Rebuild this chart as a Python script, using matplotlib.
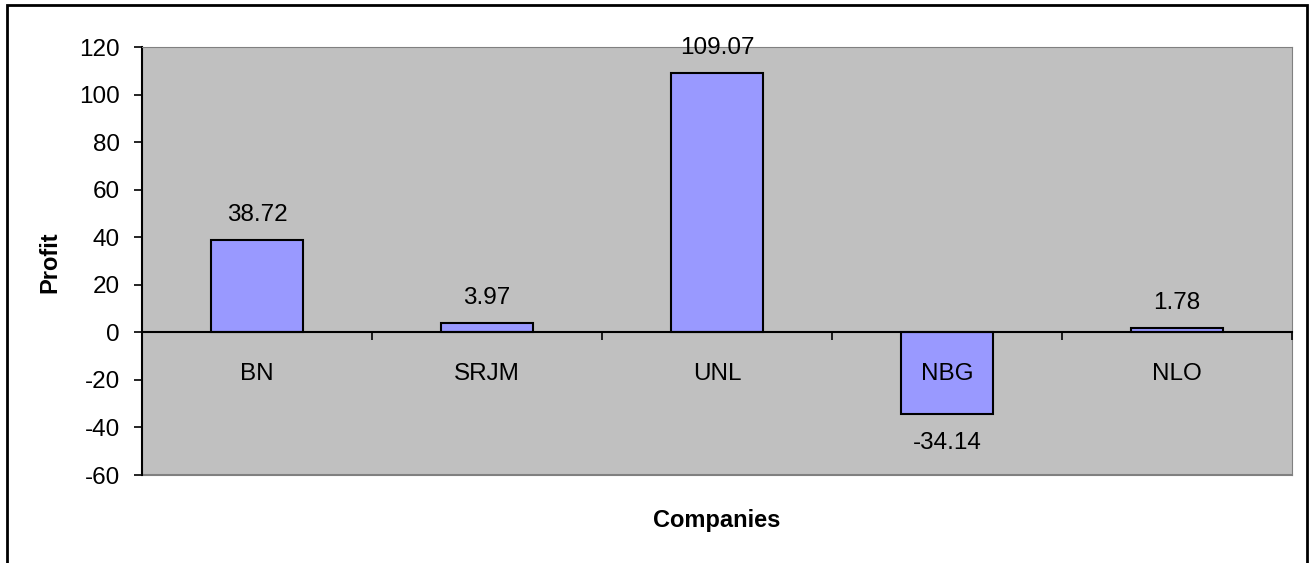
import matplotlib.pyplot as plt
from matplotlib.patches import Rectangle

companies = ['BN', 'SRJM', 'UNL', 'NBG', 'NLO']
profit = [38.72, 3.97, 109.07, -34.14, 1.78]
yticks = [-60, -40, -20, 0, 20, 40, 60, 80, 100, 120]

plt.rcParams['font.family'] = ['Liberation Sans', 'DejaVu Sans']
plt.rcParams['axes.unicode_minus'] = False

W, H = 1314, 563
fig = plt.figure(figsize=(W / 100, H / 100), dpi=100)

# chart area frame
fig.patches.append(Rectangle((7 / W, -0.05), 1300 / W, 1.05 - 5 / H,
                             transform=fig.transFigure, fill=False,
                             edgecolor='black', linewidth=2, clip_on=False))

ax = fig.add_axes([142 / W, (H - 475) / H, 1150 / W, 428 / H])
ax.set_facecolor('#C0C0C0')
ax.set_axisbelow(False)  # category labels go over the negative bar

x = list(range(len(companies)))
bars = ax.bar(x, profit, width=0.4, color='#9999FF', edgecolor='black',
              linewidth=1.5, zorder=2)

for b, v in zip(bars, profit):
    off = 18 if v >= 0 else -21
    ax.annotate('{:.2f}'.format(v), (b.get_x() + b.get_width() / 2, v),
                xytext=(0, off), textcoords='offset points',
                ha='center', va='center', fontsize=17.5, zorder=4)

ax.set_xlim(-0.5, len(companies) - 0.5)
ax.set_ylim(-60, 120)
ax.set_yticks(yticks)
ax.tick_params(axis='y', length=6, width=1.2, pad=10, labelsize=17.5)

# category axis sits on the zero line
ax.spines['bottom'].set_position(('data', 0))
ax.spines['bottom'].set_linewidth(1.5)
ax.spines['left'].set_linewidth(1.5)
ax.spines['top'].set_color('#808080')
ax.spines['right'].set_color('#808080')
ax.set_xticks([i - 0.5 for i in range(len(companies) + 1)])
ax.set_xticklabels([])
ax.set_xticks(x, minor=True)
ax.set_xticklabels(companies, minor=True)
ax.tick_params(axis='x', which='major', length=6, width=1.2, direction='out')
ax.tick_params(axis='x', which='minor', length=0, pad=22, labelsize=17.5)

# lower edge of the plot area
ax.plot([0, 1], [0, 0], transform=ax.transAxes, color='#808080',
        linewidth=1.5, clip_on=False)

fig.text(50 / W, 1 - 262 / H, 'Profit', rotation=90, ha='center',
         va='center', fontsize=17, fontweight='bold')
fig.text(717 / W, 1 - 521 / H, 'Companies', ha='center', va='center',
         fontsize=17, fontweight='bold')

fig.savefig('out.png', dpi=100)
